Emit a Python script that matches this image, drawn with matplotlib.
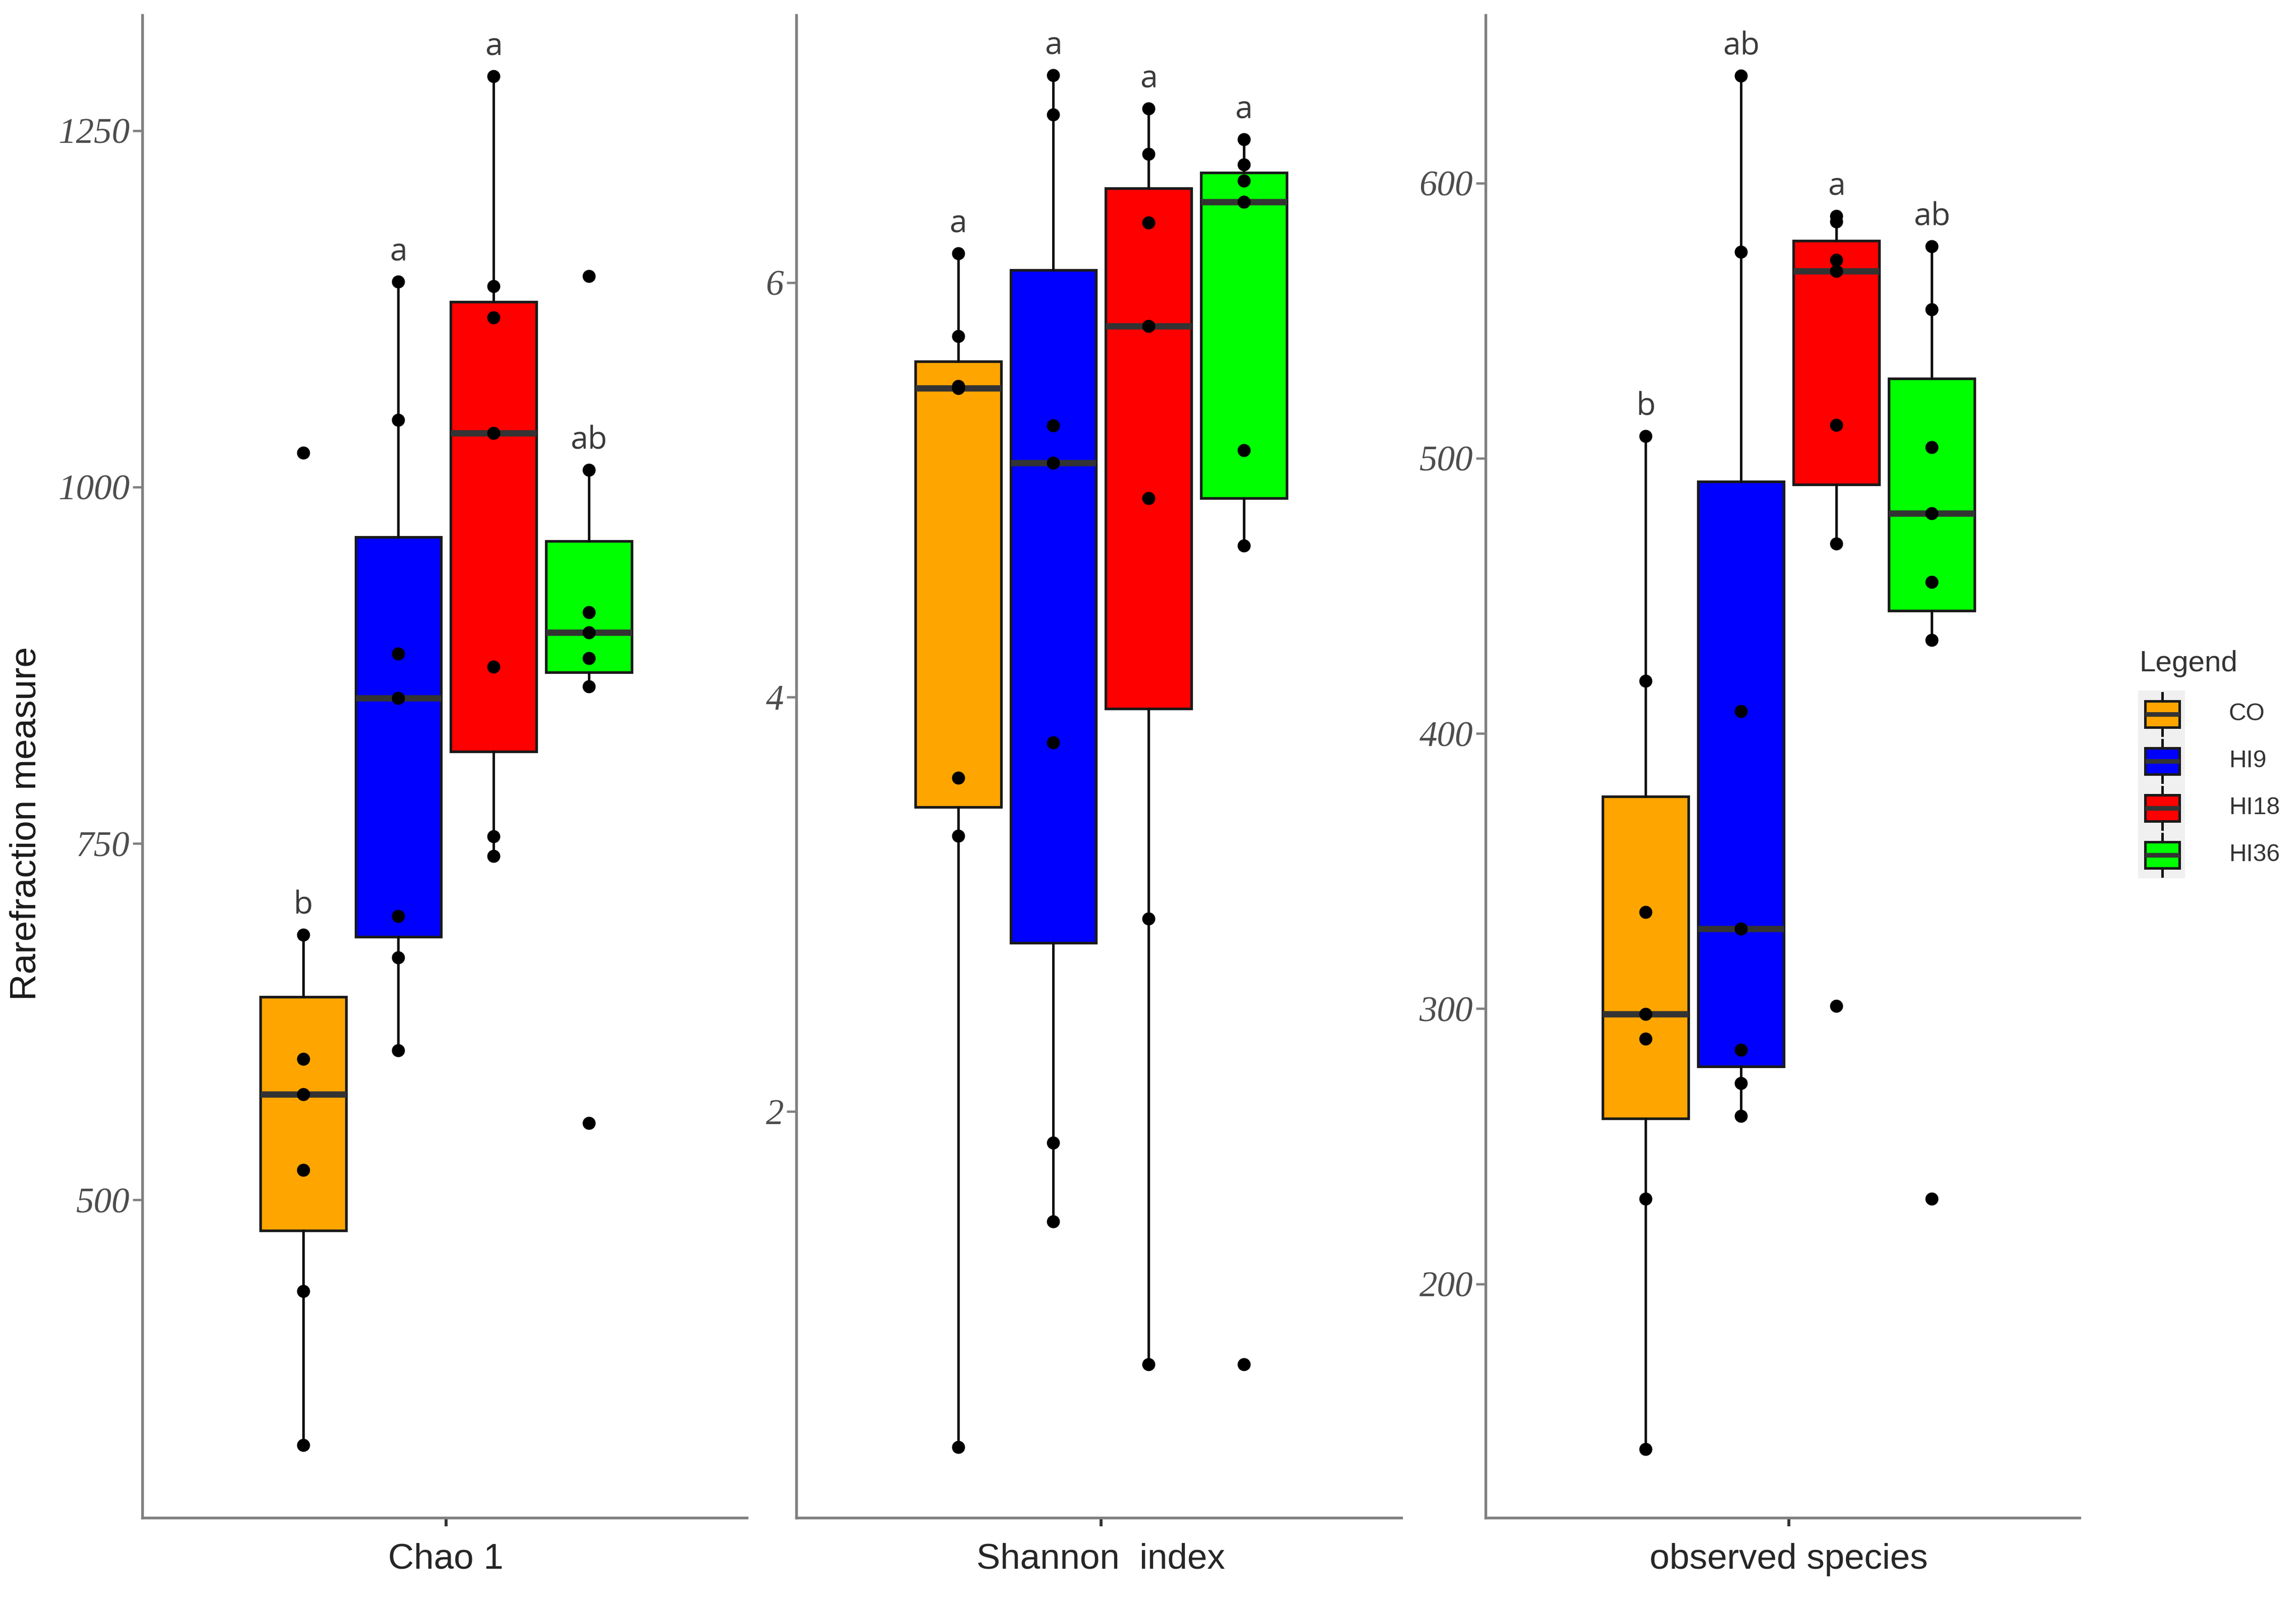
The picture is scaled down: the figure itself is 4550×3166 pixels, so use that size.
"""
Rarefaction measures (Chao 1, Shannon index, observed species) per group.
"""

import matplotlib
matplotlib.use("Agg")
import matplotlib.pyplot as plt
from matplotlib.patches import Rectangle


# ==========================================================
# Data
# ==========================================================

groups = ["CO", "HI9", "HI18", "HI36"]
group_colors = ["#FFA500", "#0000FF", "#FF0000", "#00FF00"]

chao1_co = [328, 436, 521, 574, 599, 686, 1024]
chao1_hi9 = [605, 670, 699, 852, 883, 1047, 1144]
chao1_hi18 = [741, 755, 874, 1038, 1119, 1141, 1288]
chao1_hi36 = [554, 860, 880, 898, 912, 1012, 1148]

shannon_co = [0.38, 3.33, 3.61, 5.49, 5.50, 5.74, 6.14]
shannon_hi9 = [1.47, 1.85, 3.78, 5.13, 5.31, 6.81, 7.00]
shannon_hi18 = [0.78, 2.93, 4.96, 5.79, 6.29, 6.62, 6.84]
shannon_hi36 = [0.78, 4.73, 5.19, 6.39, 6.49, 6.57, 6.69]

observed_co = [140, 231, 289, 298, 335, 419, 508]
observed_hi9 = [261, 273, 285, 329, 408, 575, 639]
observed_hi18 = [301, 469, 512, 568, 572, 586, 588]
observed_hi36 = [231, 434, 455, 480, 504, 554, 577]

chao1_letters = ["b", "a", "a", "ab"]
shannon_letters = ["a", "a", "a", "a"]
observed_letters = ["b", "ab", "a", "ab"]

panel_names = ["Chao 1", "Shannon  index", "observed species"]
panel_ticks = [[500, 750, 1000, 1250], [2, 4, 6], [200, 300, 400, 500, 600]]
panel_ylims = [(277, 1331), (0.04, 7.29), (115, 661)]


# ==========================================================
# Layout (pixels of the 4550 x 3166 canvas)
# ==========================================================

W, H = 4550, 3166
AX_TOP, AX_BOTTOM = 30, 3007
panel_x = [(282, 1480), (1578, 2777), (2944, 4121)]
panel_xlims = [(-0.638, 0.632), (-0.640, 0.631), (-0.636, 0.610)]
offsets = [-0.3, -0.1, 0.1, 0.3]

SERIF = "Liberation Serif"
SANS = "Liberation Sans"
LETTER_FONT = "Open Sans"

fig = plt.figure(figsize=(W / 300, H / 300), dpi=300)
fig.patch.set_facecolor("white")

panels = [
    ([chao1_co, chao1_hi9, chao1_hi18, chao1_hi36], chao1_letters),
    ([shannon_co, shannon_hi9, shannon_hi18, shannon_hi36], shannon_letters),
    ([observed_co, observed_hi9, observed_hi18, observed_hi36], observed_letters),
]

for k, (values, letters) in enumerate(panels):

    x0, x1 = panel_x[k]

    ax = fig.add_axes([
        x0 / W,
        1 - AX_BOTTOM / H,
        (x1 - x0) / W,
        (AX_BOTTOM - AX_TOP) / H,
    ])

    bp = ax.boxplot(
        values,
        positions=offsets,
        widths=0.18,
        whis=1.5,
        patch_artist=True,
        showfliers=False,
        showcaps=False,
        boxprops=dict(edgecolor="#1a1a1a", linewidth=1.25),
        whiskerprops=dict(color="#111111", linewidth=1.2),
        medianprops=dict(color="#333333", linewidth=3.0, solid_capstyle="butt"),
        zorder=2,
    )

    for patch, color in zip(bp["boxes"], group_colors):
        patch.set_facecolor(color)

    # raw samples on top of the boxes
    for pos, vals in zip(offsets, values):
        ax.plot(
            [pos] * len(vals),
            vals,
            "o",
            color="black",
            markersize=6.2,
            markeredgewidth=0,
            zorder=4,
        )

    # significance letters above the upper whisker
    for i, letter in enumerate(letters):
        top = bp["whiskers"][2 * i + 1].get_ydata()[1]
        ax.annotate(
            letter,
            xy=(offsets[i], top),
            xytext=(0, 10),
            textcoords="offset points",
            ha="center",
            va="baseline",
            fontsize=15,
            family=LETTER_FONT,
            color="#3a3a3a",
        )

    ax.set_xlim(*panel_xlims[k])
    ax.set_ylim(*panel_ylims[k])

    ax.set_yticks(panel_ticks[k])
    ax.set_yticklabels(
        [str(t) for t in panel_ticks[k]],
        fontsize=17,
        family=SERIF,
        style="italic",
        color="#4d4d4d",
    )

    ax.set_xticks([0])
    ax.set_xticklabels([panel_names[k]], fontsize=17, family=SANS, color="#262626")

    ax.tick_params(axis="y", length=4.5, width=1.1, color="#808080", pad=1.5)
    ax.tick_params(axis="x", length=4, width=1.4, color="#333333", pad=8)

    for side in ["top", "right"]:
        ax.spines[side].set_visible(False)

    for side in ["left", "bottom"]:
        ax.spines[side].set_color("#808080")
        ax.spines[side].set_linewidth(1.3)

    ax.set_facecolor("white")


fig.text(
    52 / W,
    1 - 1632 / H,
    "Rarefraction measure",
    rotation=90,
    ha="center",
    va="center",
    fontsize=17.5,
    family=SANS,
    color="#1a1a1a",
)


# ==========================================================
# Legend
# ==========================================================

leg = fig.add_axes([0, 0, 1, 1], zorder=5)
leg.set_xlim(0, W)
leg.set_ylim(H, 0)
leg.axis("off")

leg.text(
    4239, 1315, "Legend",
    ha="left", va="center",
    fontsize=14, family=SANS, color="#333333",
)

key_x, key_top, key_step = 4285, 1368, 93

leg.add_patch(Rectangle(
    (4237, key_top), 93, key_step * len(groups),
    facecolor="#f0f0f0", edgecolor="none",
))

for i, (name, color) in enumerate(zip(groups, group_colors)):

    cy = key_top + key_step * (i + 0.5)

    leg.plot([key_x, key_x], [cy - 42, cy + 42], color="#111111", linewidth=1.2)

    leg.add_patch(Rectangle(
        (key_x - 34, cy - 26), 68, 52,
        facecolor=color, edgecolor="#1a1a1a", linewidth=1.2, zorder=3,
    ))

    leg.plot(
        [key_x - 34, key_x + 34], [cy, cy],
        color="#333333", linewidth=2.2, solid_capstyle="butt", zorder=4,
    )

    leg.text(
        4417, cy, name,
        ha="left", va="center",
        fontsize=11.5, family=SANS, color="#333333",
    )


fig.savefig("out.png", dpi=300, facecolor="white")
